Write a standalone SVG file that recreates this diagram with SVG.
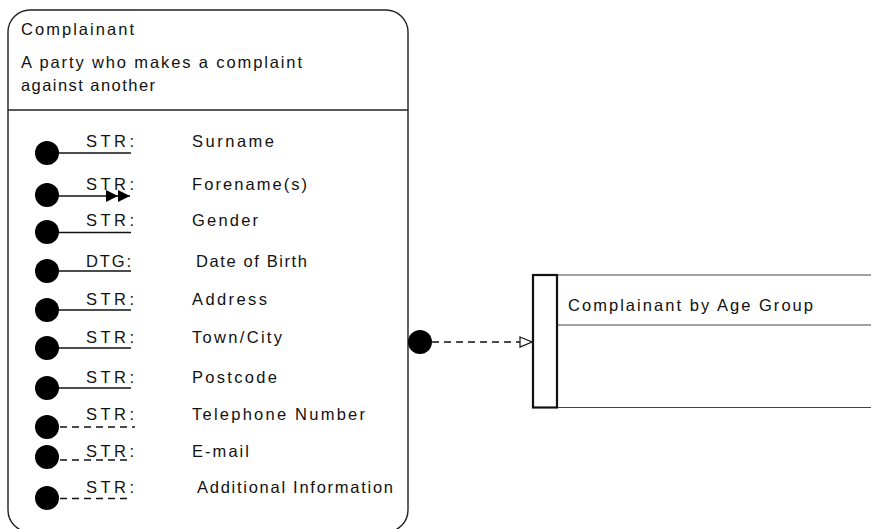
<svg xmlns="http://www.w3.org/2000/svg" width="871" height="529" viewBox="0 0 871 529">
  <defs>
    <style>
      text { font-family: "Liberation Sans", Arial, sans-serif; font-size: 16.5px; fill: #111; }
      .edge { fill: none; stroke: #222; stroke-width: 1.4; }
      .thin { fill: none; stroke: #444; stroke-width: 1.2; }
      .thick { fill: none; stroke: #111; stroke-width: 2.2; }
      .attr { stroke: #111; stroke-width: 1.3; }
      .opt { stroke: #111; stroke-width: 1.3; stroke-dasharray: 7 5; }
      .dot { fill: #000; }
    </style>
    <marker id="dbl" viewBox="0 0 24 12" refX="24" refY="6" markerWidth="24" markerHeight="12" markerUnits="userSpaceOnUse" orient="auto">
      <path d="M0,0 L12,6 L0,12 Z M12,0 L24,6 L12,12 Z" fill="#000"/>
    </marker>
    <marker id="open" viewBox="0 0 14 12" refX="13" refY="6" markerWidth="14" markerHeight="12" markerUnits="userSpaceOnUse" orient="auto">
      <path d="M1,1 L13,6 L1,11 Z" fill="#fff" stroke="#111" stroke-width="1.2"/>
    </marker>
  </defs>

  <!-- Entity: Complainant -->
  <g id="complainant">
    <path class="edge" d="M30,10 H386 A22,22 0 0 1 408,32 V510 A22,22 0 0 1 386,532 H30 A22,22 0 0 1 8,510 V32 A22,22 0 0 1 30,10 Z"/>
    <line class="edge" x1="8" y1="110" x2="408" y2="110"/>
    <text x="21" y="35" textLength="113" lengthAdjust="spacing">Complainant</text>
    <text x="21" y="68" textLength="281" lengthAdjust="spacing">A party who makes a complaint</text>
    <text x="21" y="91" textLength="134" lengthAdjust="spacing">against another</text>

    <g id="attr-surname">
      <line class="attr" x1="47" y1="153" x2="131" y2="153"/>
      <circle class="dot" cx="47" cy="153" r="12"/>
      <text x="86" y="147" textLength="48" lengthAdjust="spacing">STR:</text>
      <text x="192" y="147" textLength="82" lengthAdjust="spacing">Surname</text>
    </g>
    <g id="attr-forename">
      <line class="attr" x1="47" y1="196" x2="130" y2="196" marker-end="url(#dbl)"/>
      <circle class="dot" cx="47" cy="195" r="12"/>
      <text x="86" y="190" textLength="48" lengthAdjust="spacing">STR:</text>
      <text x="192" y="190" textLength="115" lengthAdjust="spacing">Forename(s)</text>
    </g>
    <g id="attr-gender">
      <line class="attr" x1="47" y1="232.5" x2="131" y2="232.5"/>
      <circle class="dot" cx="47" cy="232" r="12"/>
      <text x="86" y="226" textLength="48" lengthAdjust="spacing">STR:</text>
      <text x="192" y="226" textLength="66" lengthAdjust="spacing">Gender</text>
    </g>
    <g id="attr-dob">
      <line class="attr" x1="47" y1="271" x2="131" y2="271"/>
      <circle class="dot" cx="47" cy="271" r="12"/>
      <text x="86" y="267" textLength="45" lengthAdjust="spacing">DTG:</text>
      <text x="196" y="267" textLength="111" lengthAdjust="spacing">Date of Birth</text>
    </g>
    <g id="attr-address">
      <line class="attr" x1="47" y1="310" x2="131" y2="310"/>
      <circle class="dot" cx="47" cy="310" r="12"/>
      <text x="86" y="305" textLength="48" lengthAdjust="spacing">STR:</text>
      <text x="192" y="305" textLength="75" lengthAdjust="spacing">Address</text>
    </g>
    <g id="attr-town">
      <line class="attr" x1="47" y1="348" x2="131" y2="348"/>
      <circle class="dot" cx="47" cy="348" r="12"/>
      <text x="86" y="343" textLength="48" lengthAdjust="spacing">STR:</text>
      <text x="192" y="343" textLength="90" lengthAdjust="spacing">Town/City</text>
    </g>
    <g id="attr-postcode">
      <line class="attr" x1="47" y1="388" x2="131" y2="388"/>
      <circle class="dot" cx="47" cy="388" r="12"/>
      <text x="86" y="383" textLength="48" lengthAdjust="spacing">STR:</text>
      <text x="192" y="383" textLength="85" lengthAdjust="spacing">Postcode</text>
    </g>
    <g id="attr-telephone">
      <line class="opt" x1="60" y1="427" x2="135" y2="427"/>
      <circle class="dot" cx="47" cy="427" r="12"/>
      <text x="86" y="420" textLength="48" lengthAdjust="spacing">STR:</text>
      <text x="192" y="420" textLength="173" lengthAdjust="spacing">Telephone Number</text>
    </g>
    <g id="attr-email">
      <line class="opt" x1="60" y1="460" x2="128" y2="460"/>
      <circle class="dot" cx="47" cy="457" r="12"/>
      <text x="86" y="457" textLength="48" lengthAdjust="spacing">STR:</text>
      <text x="192" y="457" textLength="57" lengthAdjust="spacing">E-mail</text>
    </g>
    <g id="attr-additional">
      <line class="opt" x1="60" y1="498.5" x2="128" y2="498.5"/>
      <circle class="dot" cx="47" cy="498" r="12"/>
      <text x="86" y="493" textLength="48" lengthAdjust="spacing">STR:</text>
      <text x="197" y="493" textLength="196" lengthAdjust="spacing">Additional Information</text>
    </g>
  </g>

  <!-- Entity: Complainant by Age Group (open on the right) -->
  <g id="complainant-by-age-group">
    <line class="thin" x1="557" y1="275" x2="871" y2="275"/>
    <line class="thin" x1="557" y1="325" x2="871" y2="325"/>
    <line class="thin" x1="557" y1="407.5" x2="871" y2="407.5"/>
    <line class="thin" x1="557" y1="275" x2="557" y2="407.5"/>
    <rect class="thick" x="533" y="275" width="24" height="132.5"/>
    <text x="568" y="311" textLength="245" lengthAdjust="spacing">Complainant by Age Group</text>
  </g>

  <!-- Relationships -->
  <g id="connectors">
    <line class="opt" x1="432" y1="342" x2="532" y2="342" stroke-dasharray="8 6" marker-end="url(#open)"/>
    <circle class="dot" cx="420" cy="342" r="12"/>
  </g>
</svg>
